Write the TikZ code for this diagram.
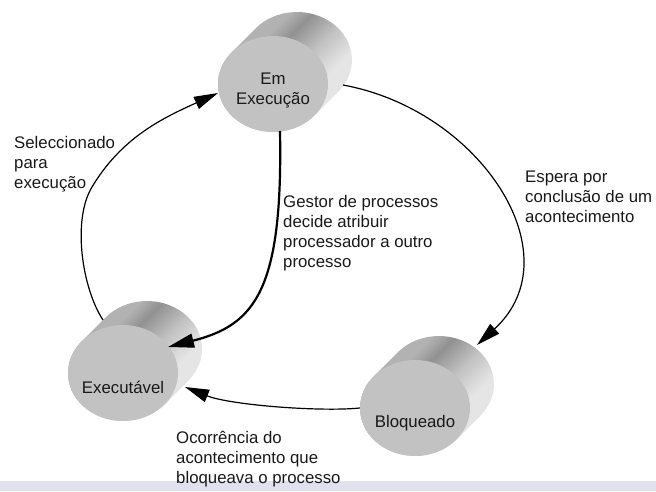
\documentclass[tikz,border=0pt]{standalone}
\usepackage{fontspec}
\setmainfont{Liberation Sans}
\usetikzlibrary{shapes.geometric,arrows.meta}

\definecolor{faixa}{RGB}{224,224,238}
\definecolor{face}{RGB}{194,194,194}
\pgfdeclarehorizontalshading{corpo}{100bp}{color(0bp)=(black!30); color(36bp)=(black!30);
  color(42bp)=(black!43); color(52bp)=(black!24); color(62bp)=(black!10); color(100bp)=(black!10)}

\newcommand{\cilindro}[1]{%
  \shade[shading=corpo, shading angle=-45]
    ([shift={(221:55 and 48)}]#1) -- ++(24,-24)
    arc[start angle=221, end angle=401, x radius=55, y radius=48]
    -- ++(-24,24)
    arc[start angle=41, end angle=221, x radius=55, y radius=48] -- cycle;}

\begin{document}
\begin{tikzpicture}
[
  x=1pt, y=-1pt,
  estado/.style={ellipse, fill=face, minimum width=110pt, minimum height=96pt, inner sep=0pt},
  texto/.style={font=\fontsize{16.8}{20}\selectfont, text=black!90, inner sep=0pt},
  seta/.style={-{Triangle[length=24pt,width=13pt]}, line width=1.2pt},
  setaforte/.style={-{Triangle[length=26pt,width=14pt]}, line width=2.2pt}
]

\useasboundingbox (0,0) rectangle (656,491);
\fill[faixa] (0,481) rectangle (656,491);

\cilindro{273,84}
\cilindro{123,373}
\cilindro{415,408}

\node[estado, label={[texto, align=center, yshift=-6pt]center:Em\\Execução}] (exec) at (273,84) {};
\node[estado, label={[texto, yshift=-14.5pt]center:Executável}] (pronto) at (123,373) {};
\node[estado, label={[texto, yshift=-15pt]center:Bloqueado}] (bloq) at (415,408) {};

\draw[seta] ([shift={(70,1)}]exec.center) .. controls (480,110) and (575,255) .. ([shift={(62,-63)}]bloq.center);
\draw[seta] (bloq.west) .. controls (320,412) and (230,405) .. ([shift={(62,14)}]pronto.center);
\draw[seta] ([shift={(-20,-53)}]pronto.center) .. controls (82,288) and (72,220) .. (92,187)
  .. controls (122,137) and (163,118) .. ([shift={(-55,9)}]exec.center);
\draw[setaforte] ([shift={(7,47)}]exec.center) .. controls (283,290) and (255,325) .. ([shift={(45,-26)}]pronto.center);

\node[texto, align=left, anchor=base west] (lsel) at (14,188) {Seleccionado\\para\\execução};
\node[texto, align=left, anchor=base west] (lesp) at (525,222) {Espera por\\conclusão de um\\acontecimento};
\node[texto, align=left, anchor=base west] (lges) at (283,267) {Gestor de processos\\decide atribuir\\processador a outro\\processo};
\node[texto, align=left, anchor=base west] (locor) at (176,483) {Ocorrência do\\acontecimento que\\bloqueava o processo};
\end{tikzpicture}
\end{document}
